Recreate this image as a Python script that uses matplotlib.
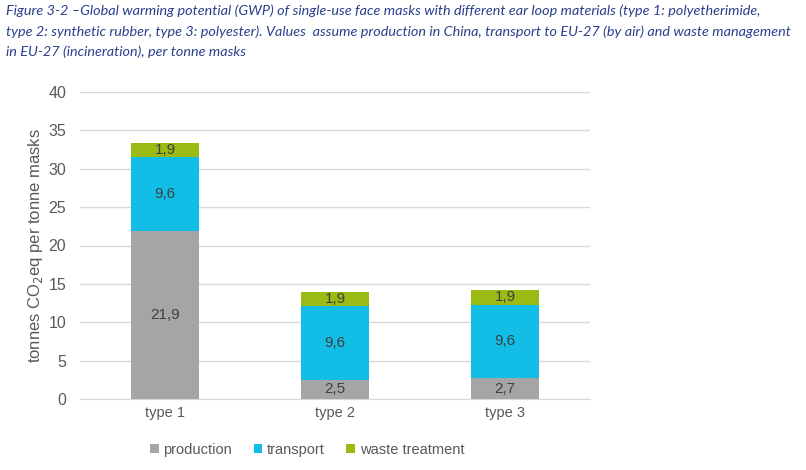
import matplotlib.pyplot as plt
import numpy as np

plt.rcParams['font.family'] = ['Liberation Sans', 'DejaVu Sans']

categories = ['type 1', 'type 2', 'type 3']
production = [21.9, 2.5, 2.7]
transport = [9.6, 9.6, 9.6]
waste = [1.9, 1.9, 1.9]
series_names = ['production', 'transport', 'waste treatment']
colors = ['#A5A5A5', '#12BDE6', '#99BB13']

title = ('Figure 3-2 \u2013Global warming potential (GWP) of single-use face masks with different ear loop materials (type 1: polyetherimide,\n'
         'type 2: synthetic rubber, type 3: polyester). Values  assume production in China, transport to EU-27 (by air) and waste management\n'
         'in EU-27 (incineration), per tonne masks')

fig = plt.figure(figsize=(8.06, 4.70), dpi=100)
ax = fig.add_axes([80 / 806, 1 - 399 / 470, 510 / 806, 307 / 470])

x = np.arange(len(categories))
bottom = np.zeros(len(categories))
for name, vals, c in zip(series_names, [production, transport, waste], colors):
    bars = ax.bar(x, vals, 0.4, bottom=bottom, color=c, label=name, zorder=3)
    for b, v, y0 in zip(bars, vals, bottom):
        ax.text(b.get_x() + b.get_width() / 2, y0 + v / 2, f'{v:.1f}'.replace('.', ','),
                ha='center', va='center', fontsize=11, color='#404040', zorder=4)
    bottom = bottom + np.array(vals)

ax.set_xlim(-0.5, 2.5)
ax.set_ylim(0, 40)
ax.set_yticks(range(0, 41, 5))
ax.set_xticks(x)
ax.set_xticklabels(categories)
ax.yaxis.grid(True, color='#D9D9D9', linewidth=1, zorder=0)
for s in ['top', 'right', 'left']:
    ax.spines[s].set_visible(False)
ax.spines['bottom'].set_color('#D9D9D9')
ax.tick_params(axis='y', length=0, labelsize=11.5, labelcolor='#595959', pad=10)
ax.tick_params(axis='x', length=0, labelsize=10.5, labelcolor='#595959', pad=5)
ax.set_ylabel('tonnes CO$_2$eq per tonne masks', fontsize=12, color='#595959', labelpad=2)

ax.legend(loc='upper center', bbox_to_anchor=(0.445, -0.1), ncol=3, frameon=False,
          fontsize=10.5, labelcolor='#595959', handlelength=0.6, handleheight=0.6,
          handletextpad=0.3, columnspacing=1.5)

t = fig.text(0.008, 0.99, title, ha='left', va='top', fontsize=10, style='italic',
             family=['Lato', 'DejaVu Sans'], color='#2B3F8C', linespacing=1.75)
# shrink the caption so its widest line fits the page width
r = fig.canvas.get_renderer()
w = t.get_window_extent(r).width
t.set_fontsize(10 * 785 / w)

fig.savefig('out.png', dpi=100)
